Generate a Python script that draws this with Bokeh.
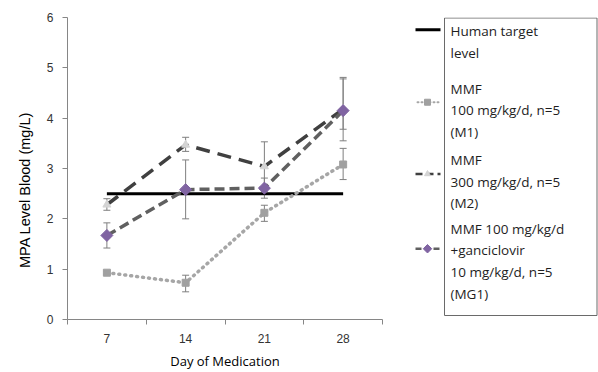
import math
from bokeh.plotting import figure
from bokeh.models import ColumnDataSource, Whisker, TeeHead, FixedTicker, Range1d
from bokeh.layouts import row
from bokeh.core.properties import value
from bokeh.embed import file_html
from bokeh.resources import INLINE

# ---------------- data ----------------
days = [7, 14, 21, 28]
day_labels = ["7", "14", "21", "28"]
target_level = 2.5

m1_mean = [0.93, 0.73, 2.12, 3.08]
m1_upper = [0.96, 0.88, 2.27, 3.40]
m1_lower = [0.90, 0.55, 1.95, 2.78]

m2_mean = [2.28, 3.47, 3.04, 4.18]
m2_upper = [2.40, 3.62, 3.53, 4.81]
m2_lower = [2.17, 3.34, 2.55, 3.55]

mg1_mean = [1.67, 2.58, 2.61, 4.15]
mg1_upper = [1.92, 3.17, 2.81, 4.78]
mg1_lower = [1.42, 2.00, 2.41, 3.78]

y_ticks = [0, 1, 2, 3, 4, 5, 6]
y_title = "MPA Level Blood (mg/L)"
x_title = "Day of Medication"

legend_labels = [
    ["Human target", "level"],
    ["MMF", "100 mg/kg/d, n=5", "(M1)"],
    ["MMF", "300 mg/kg/d, n=5", "(M2)"],
    ["MMF 100 mg/kg/d", "+ganciclovir", "10 mg/kg/d, n=5", "(MG1)"],
]

# ---------------- styles ----------------
ERR = "#7f7f7f"
M1_LINE = "#a6a6a6"
M1_MARK = "#a0a0a0"
M2_LINE = "#404040"
M2_MARK = "#d4d4d4"
MG1_LINE = "#606060"
MG1_MARK = "#8064a2"
AXIS = "#868686"

TOP, BOTTOM = 17, 52
LEFT_W = 40


def blank(width, x0, x1):
    f = figure(width=width, height=372, x_range=Range1d(x0, x1), y_range=Range1d(320, 17),
               output_backend="svg", toolbar_location=None,
               x_axis_location=None, y_axis_location=None,
               min_border_left=0, min_border_right=0, min_border_top=TOP, min_border_bottom=BOTTOM)
    f.outline_line_color = None
    f.grid.visible = False
    return f


# ---------------- y title panel (coordinates = page pixels) ----------------
yt = blank(LEFT_W, 0, LEFT_W)
yt.text(x=[24], y=[190], text=[y_title], angle=math.pi / 2, text_font=value("Liberation Sans"),
        text_font_size="14.5px", text_color="black", text_align="center", text_baseline="middle")

# ---------------- main plot ----------------
p = figure(width=408 - LEFT_W, height=372, x_range=Range1d(3.5, 31.5), y_range=Range1d(0, 6),
           output_backend="svg", toolbar_location=None,
           min_border_left=67 - LEFT_W, min_border_right=26, min_border_top=TOP, min_border_bottom=BOTTOM)
p.outline_line_color = None
p.grid.visible = False
p.background_fill_color = "white"

xa = p.xaxis[0]
xa.ticker = FixedTicker(ticks=days, minor_ticks=[3.5, 10.5, 17.5, 24.5, 31.5])
xa.major_label_overrides = {d: s for d, s in zip(days, day_labels)}
xa.major_tick_out = 0
xa.major_tick_in = 0
xa.minor_tick_out = 5
xa.minor_tick_in = 0
xa.minor_tick_line_color = AXIS
xa.axis_line_color = AXIS
xa.major_label_text_font = "Liberation Sans"
xa.major_label_text_font_size = "12px"
xa.major_label_text_color = "#333333"
xa.major_label_standoff = 9
xa.axis_label = x_title
xa.axis_label_text_font = "Open Sans"
xa.axis_label_text_font_style = "normal"
xa.axis_label_text_font_size = "13px"
xa.axis_label_text_color = "black"
xa.axis_label_standoff = 6

ya = p.yaxis[0]
ya.ticker = FixedTicker(ticks=y_ticks, minor_ticks=[])
ya.major_tick_out = 5
ya.major_tick_in = 0
ya.major_tick_line_color = AXIS
ya.axis_line_color = AXIS
ya.major_label_text_font = "Liberation Sans"
ya.major_label_text_font_size = "12px"
ya.major_label_text_color = "#333333"
ya.major_label_standoff = 9

# target line
p.line([days[0], days[-1]], [target_level, target_level], line_color="black", line_width=3)


def whisk(mean, up, lo):
    src = ColumnDataSource(dict(x=days, y=mean, upper=up, lower=lo))
    w = Whisker(source=src, base="x", upper="upper", lower="lower", dimension="height",
                line_color=ERR, line_width=1,
                upper_head=TeeHead(size=7, line_color=ERR, line_width=1),
                lower_head=TeeHead(size=7, line_color=ERR, line_width=1))
    p.add_layout(w)
    return src


s1 = whisk(m1_mean, m1_upper, m1_lower)
s2 = whisk(m2_mean, m2_upper, m2_lower)
s3 = whisk(mg1_mean, mg1_upper, mg1_lower)

# M1
p.line("x", "y", source=s1, line_color=M1_LINE, line_width=3.5, line_dash="1 5", line_cap="round")
p.scatter("x", "y", source=s1, marker="square", size=7, fill_color=M1_MARK, line_color=M1_MARK)
# M2
p.line("x", "y", source=s2, line_color=M2_LINE, line_width=3.5, line_dash="14 8")
p.scatter("x", "y", source=s2, marker="triangle", size=8, fill_color=M2_MARK, line_color=M2_MARK)
# MG1
p.line("x", "y", source=s3, line_color=MG1_LINE, line_width=3.5, line_dash="10 5")
p.scatter("x", "y", source=s3, marker="square", angle=math.pi / 4, size=8.5,
          fill_color=MG1_MARK, line_color=MG1_MARK)

# ---------------- legend panel (coordinates = page pixels) ----------------
lg = blank(190, 408, 598)

lg.quad(left=[444], right=[596.5], top=[17.5], bottom=[316], fill_color=None,
        line_color="#6a6a6a", line_width=1)

first_line_y = [30.7, 88.3, 160, 229]
line_h = 21.7
symbol_y = [29.3, 102, 174, 249]

for labels, y0 in zip(legend_labels, first_line_y):
    ys = [y0 + i * line_h for i in range(len(labels))]
    lg.text(x=[450] * len(labels), y=ys, text=labels, text_font=value("Open Sans"),
            text_font_size="13.5px", text_color="#1e1e1e", text_baseline="middle",
            text_align="left")

# legend symbols
lg.line([415, 440], [symbol_y[0]] * 2, line_color="black", line_width=3)
lg.line([417, 438], [symbol_y[1]] * 2, line_color=M1_LINE, line_width=2, line_dash="1 3", line_cap="round")
lg.scatter([427], [symbol_y[1]], marker="square", size=6, fill_color=M1_MARK, line_color=M1_MARK)
lg.line([415, 440], [symbol_y[2]] * 2, line_color=M2_LINE, line_width=2.5, line_dash="7 4")
lg.scatter([427], [symbol_y[2]], marker="triangle", size=6, fill_color=M2_MARK, line_color=M2_MARK)
lg.line([415, 440], [symbol_y[3]] * 2, line_color=MG1_LINE, line_width=2.5, line_dash="6 3")
lg.scatter([427], [symbol_y[3]], marker="square", angle=math.pi / 4, size=6,
           fill_color=MG1_MARK, line_color=MG1_MARK)

layout = row(yt, p, lg)
open("out.html", "w").write(file_html(layout, INLINE))
